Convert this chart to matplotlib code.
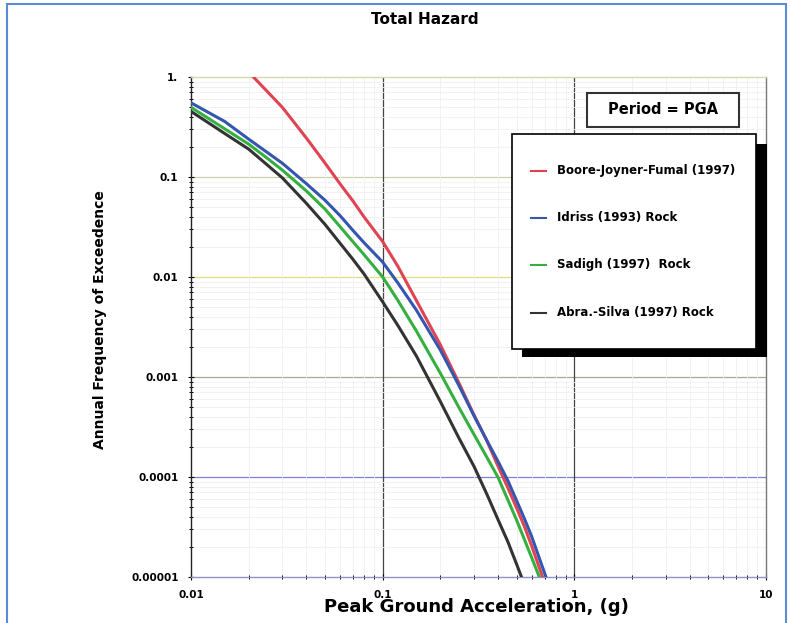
import matplotlib
matplotlib.use('Agg')
import matplotlib.pyplot as plt
from matplotlib.patches import Rectangle
from matplotlib.lines import Line2D
from matplotlib.legend_handler import HandlerLine2D
from matplotlib.ticker import FixedLocator, FixedFormatter, LogLocator, NullFormatter

# ---------------- data ----------------
pga = [0.01, 0.015, 0.02, 0.025, 0.03, 0.04, 0.05, 0.06, 0.07, 0.08, 0.1, 0.12, 0.15,
       0.2, 0.25, 0.3, 0.35, 0.4, 0.45, 0.5, 0.55, 0.6, 0.65, 0.7, 0.75]

bjf_x = pga[2:24]
bjf_y = [1.12, 0.716, 0.496, 0.245, 0.138, 0.0851, 0.0575, 0.0398, 0.0226, 0.0128,
         0.00581, 0.00210, 0.000871, 0.000415, 0.000229, 0.000128, 7.8e-5, 4.9e-5,
         3.17e-5, 2.03e-5, 1.31e-5, 8.7e-6]

idriss_y = [0.552, 0.359, 0.239, 0.176, 0.137, 0.0857, 0.0586, 0.0410, 0.0292, 0.0220,
            0.0141, 0.00873, 0.00466, 0.00186, 0.000822, 0.000407, 0.000231, 0.000143,
            9.2e-5, 5.79e-5, 3.8e-5, 2.52e-5, 1.63e-5, 1.09e-5, 7.5e-6]
sadigh_y = [0.498, 0.303, 0.213, 0.154, 0.117, 0.0725, 0.0478, 0.0318, 0.0225, 0.0167,
            0.0100, 0.00584, 0.00288, 0.00109, 0.000495, 0.000265, 0.000157, 9.9e-5,
            5.9e-5, 3.7e-5, 2.35e-5, 1.55e-5, 1.05e-5, 7.3e-6]
abra_y = [0.453, 0.272, 0.190, 0.132, 0.0978, 0.0545, 0.0336, 0.0217, 0.0150, 0.0107,
          0.00564, 0.00328, 0.00162, 0.000568, 0.000245, 0.000127, 6.7e-5, 3.74e-5,
          2.25e-5, 1.34e-5, 8.3e-6]

series_labels = ["Boore-Joyner-Fumal (1997)", "Idriss (1993) Rock",
                 "Sadigh (1997)  Rock", "Abra.-Silva (1997) Rock"]

x_ticks = [0.01, 0.1, 1, 10]
x_ticklabels = ["0.01", "0.1", "1", "10"]
y_ticks = [1e-5, 1e-4, 1e-3, 1e-2, 1e-1, 1]
y_ticklabels = ["0.00001", "0.0001", "0.001", "0.01", "0.1", "1."]

title = "Total Hazard"
xlabel = "Peak Ground Acceleration, (g)"
ylabel = "Annual Frequency of Exceedence"
period_text = "Period = PGA"

# ---------------- figure ----------------
W, H = 790, 623
def fx(px): return px / W
def fy(py): return 1 - py / H

plt.rcParams['font.family'] = ['DejaVu Sans']
plt.rcParams['font.weight'] = 'bold'

fig = plt.figure(figsize=(W / 100, H / 100), dpi=100)
fig.patch.set_facecolor('white')
ax = fig.add_axes([fx(191), fy(577), fx(766) - fx(191), fy(77) - fy(577)])

ax.set_xscale('log')
ax.set_yscale('log')
ax.set_xlim(0.01, 10)
ax.set_ylim(1e-5, 1)

# grids
ax.xaxis.set_minor_locator(LogLocator(base=10, subs=range(2, 10)))
ax.yaxis.set_minor_locator(LogLocator(base=10, subs=range(2, 10)))
ax.grid(which='minor', color='#f0f0f0', lw=0.6)
hcolors = {1e-1: '#cfcfa8', 1e-2: '#e6dc80', 1e-3: '#a8a890', 1e-4: '#8080d8'}
for yv, c in hcolors.items():
    ax.axhline(yv, color=c, lw=0.9, zorder=1)
for xv in [0.1, 1]:
    ax.axvline(xv, color='#444444', lw=0.9, zorder=1)

colors = ['#e04352', '#3556b0', '#35b040', '#333333']
ax.plot(bjf_x, bjf_y, color=colors[0], lw=2.2, zorder=3)
ax.plot(pga[:len(idriss_y)], idriss_y, color=colors[1], lw=2.2, zorder=3)
ax.plot(pga[:len(sadigh_y)], sadigh_y, color=colors[2], lw=2.2, zorder=3)
ax.plot(pga[:len(abra_y)], abra_y, color=colors[3], lw=2.2, zorder=3)

# ticks
ax.xaxis.set_major_locator(FixedLocator(x_ticks))
ax.xaxis.set_major_formatter(FixedFormatter(x_ticklabels))
ax.yaxis.set_major_locator(FixedLocator(y_ticks))
ax.yaxis.set_major_formatter(FixedFormatter(y_ticklabels))
ax.xaxis.set_minor_formatter(NullFormatter())
ax.yaxis.set_minor_formatter(NullFormatter())
ax.tick_params(which='major', length=4, width=0.8, direction='inout', labelsize=7.5, pad=7)
ax.tick_params(which='minor', length=3, width=0.7, direction='inout')
for lab in ax.get_xticklabels() + ax.get_yticklabels():
    lab.set_fontweight('bold')

for side, c in [('left', '#222222'), ('top', '#d8d8b0'), ('bottom', '#9090c8'), ('right', '#777777')]:
    ax.spines[side].set_color(c)
    ax.spines[side].set_linewidth(1.0)

# labels
fig.text(fx(425), fy(20), title, ha='center', va='center', fontsize=11, fontweight='bold')
fig.text(fx(476), fy(607), xlabel, ha='center', va='center', fontsize=13, fontweight='bold')
fig.text(fx(100), fy(320), ylabel, ha='center', va='center', rotation=90, fontsize=10, fontweight='bold')


# legend handler that lowers the sample line to the text's mid-height
class LoweredLineHandler(HandlerLine2D):
    def __init__(self, drop=5.0, **kw):
        super().__init__(**kw)
        self.drop = drop

    def create_artists(self, legend, orig_handle, xdescent, ydescent, width, height,
                       fontsize, trans):
        artists = super().create_artists(legend, orig_handle, xdescent, ydescent,
                                         width, height, fontsize, trans)
        for a in artists:
            if isinstance(a, Line2D):
                a.set_ydata([v - self.drop for v in a.get_ydata()])
        return artists


# legend with shadow
handles = [Line2D([], [], color=c, lw=1.5) for c in colors]
shadow = Rectangle((fx(522), fy(357)), fx(767) - fx(522), fy(144) - fy(357),
                   transform=fig.transFigure, facecolor='black', edgecolor='none',
                   clip_on=False, zorder=4)
ax.add_patch(shadow)
leg = ax.legend(handles, series_labels, loc='upper left', mode='expand',
                bbox_to_anchor=(fx(512), fy(134) - 0.01, fx(756) - fx(512), 0.01),
                bbox_transform=fig.transFigure,
                borderaxespad=0, frameon=True, fancybox=False, framealpha=1,
                edgecolor='black', handlelength=1.3, handleheight=4.3,
                handletextpad=0.9, labelspacing=0.96, borderpad=1.6,
                handler_map={Line2D: LoweredLineHandler(drop=5.5)},
                prop={'weight': 'bold', 'size': 8.5})
leg.get_frame().set_linewidth(1.2)
leg.set_zorder(5)

# period box
pbox = Rectangle((fx(587), fy(127)), fx(739) - fx(587), fy(93) - fy(127),
                 transform=fig.transFigure, facecolor='white', edgecolor='#333333',
                 lw=1.5, clip_on=False, zorder=5)
ax.add_patch(pbox)
fig.text(fx(663), fy(110), period_text, ha='center', va='center', fontsize=10.5,
         fontweight='bold', zorder=6)

# blue frame around the figure
fig.patches.append(Rectangle((fx(7), fy(640)), fx(786) - fx(7), fy(4) - fy(640),
                             transform=fig.transFigure, fill=False,
                             edgecolor='#5b8bd6', lw=1.5, zorder=0))

fig.savefig('out.png', dpi=100)
